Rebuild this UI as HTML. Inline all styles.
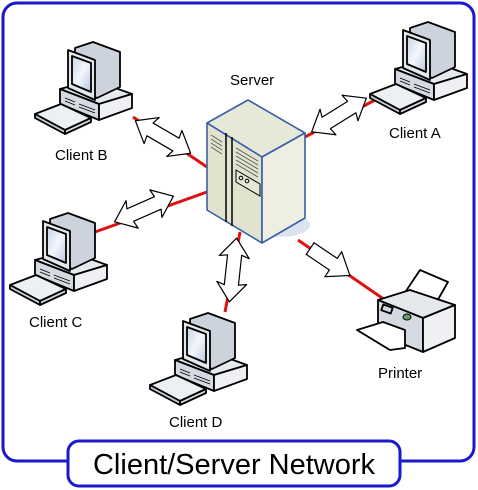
<!DOCTYPE html>
<html><head><meta charset="utf-8"><style>
html,body{margin:0;padding:0;background:#fff;}
svg{display:block;}
text{font-family:"Liberation Sans",sans-serif;fill:#000;}
</style></head><body>
<svg width="478" height="490" viewBox="0 0 478 490" xmlns="http://www.w3.org/2000/svg">
<defs>
<linearGradient id="scr" x1="0" y1="0" x2="1" y2="1"><stop offset="0" stop-color="#c8d4e8"/><stop offset="0.5" stop-color="#f4f7fc"/><stop offset="1" stop-color="#b8c6de"/></linearGradient>
<g id="pc" stroke="#000" stroke-width="1.8" stroke-linejoin="round">
  <polygon points="25,47 58,38 97,52 64,62" fill="#e6e9ee"/>
  <polygon points="25,47 64,62 64,78 25,62" fill="#d4d9e2"/>
  <polygon points="64,62 97,52 97,66 64,78" fill="#eef0f4"/>
  <line x1="30" y1="56" x2="40" y2="60" stroke-width="0.8"/><line x1="30" y1="59" x2="40" y2="63" stroke-width="0.8"/>
  <line x1="44" y1="62" x2="60" y2="68" stroke-width="0.8"/><line x1="44" y1="65" x2="60" y2="71" stroke-width="0.8"/>
  <polygon points="40,6 58,0 85,10 85,45 62,56 40,46" fill="#cdd3dc"/>
  <polygon points="33,8 60,18 60,58 33,46" fill="#e4e7ec"/>
  <polygon points="37,14 56,21 56,50 37,42" fill="url(#scr)"/>
  <polygon points="0,72 26,62 56,76 30,88" fill="#eceff3"/>
  <polygon points="0,72 30,88 30,92 0,76" fill="#c9ced6"/>
  <polygon points="30,88 56,76 56,80 30,92" fill="#d8dce3"/>
</g>
<g id="da" stroke="#000" stroke-width="1.2" fill="#fff" stroke-linejoin="round">
  <polygon points="-32,2 -14,-14 -16,-6 14,-8 12,-16 32,-2 14,14 16,6 -14,8 -12,16"/>
</g>
</defs>
<rect x="3" y="3" width="471" height="458" rx="14" fill="none" stroke="#1a1acc" stroke-width="3"/>
<g stroke="#e01010" stroke-width="3">
<line x1="133" y1="117" x2="207" y2="167"/>
<line x1="95" y1="232" x2="207" y2="192"/>
<line x1="240" y1="232" x2="225" y2="312"/>
<line x1="305" y1="137" x2="375" y2="100"/>
<line x1="298" y1="240" x2="385" y2="300"/>
</g>
<use href="#da" transform="translate(163,137) rotate(34)"/>
<use href="#da" transform="translate(144,209) rotate(-20)"/>
<use href="#da" transform="translate(233,270) rotate(100)"/>
<use href="#da" transform="translate(339,115) rotate(-28)"/>
<polygon transform="translate(330,262) rotate(34)" points="-24,-7 4,-7 4,-15 24,0 4,15 4,7 -24,7" fill="#fff" stroke="#000" stroke-width="1.2"/>
<ellipse cx="280" cy="225" rx="30" ry="12" fill="#dde3ee"/>
<g stroke="#3a5fa8" stroke-width="1.6" stroke-linejoin="round">
<polygon points="207,123 248,100 305,133 262,157" fill="#e6e8d8"/>
<polygon points="207,123 262,157 262,243 207,210" fill="#e2e3cf"/>
<polygon points="262,157 305,133 305,218 262,243" fill="#eeefe2"/>
</g>
<g stroke="#555" stroke-width="0.8">
<line x1="226" y1="133" x2="226" y2="222" stroke="#000" stroke-width="1.5"/>
<line x1="232" y1="137" x2="232" y2="226" stroke="#000" stroke-width="1.5"/>
<line x1="211" y1="135" x2="222" y2="142"/><line x1="211" y1="139" x2="222" y2="146"/><line x1="211" y1="143" x2="222" y2="150"/><line x1="211" y1="147" x2="222" y2="154"/>
<line x1="236" y1="148" x2="258" y2="161"/><line x1="236" y1="152" x2="258" y2="165"/><line x1="236" y1="156" x2="258" y2="169"/><line x1="236" y1="160" x2="258" y2="173"/><line x1="236" y1="164" x2="258" y2="177"/>
</g>
<polygon points="236,170 260,184 260,196 236,182" fill="#e6e6d6" stroke="#000" stroke-width="1"/>
<circle cx="241" cy="178" r="1.8" fill="none" stroke="#000"/><circle cx="247" cy="181" r="1.8" fill="none" stroke="#000"/>
<use href="#pc" transform="translate(35,42)"/>
<use href="#pc" transform="translate(370,22)"/>
<use href="#pc" transform="translate(10,213)"/>
<use href="#pc" transform="translate(150,313)"/>
<g stroke="#000" stroke-width="1.8" stroke-linejoin="round">
<polygon points="400,300 420,270 448,282 432,310" fill="#fff"/>
<polygon points="378,300 410,290 455,305 423,318" fill="#e4e7ec"/>
<polygon points="378,300 423,318 423,352 378,334" fill="#d4d9e2"/>
<polygon points="423,318 455,305 455,338 423,352" fill="#eef0f4"/>
<polygon points="357,330 383,322 405,330 405,348 390,350" fill="#fff"/>
<rect x="382" y="306" width="10" height="6" fill="#d0d8e4" transform="rotate(20 387 309)"/>
</g>
<ellipse cx="407" cy="317" rx="4" ry="3" fill="#6a9a6a" stroke="#000"/>
<g font-size="15">
<text x="230" y="85">Server</text>
<text x="55" y="160">Client B</text>
<text x="389" y="138">Client A</text>
<text x="29" y="327">Client C</text>
<text x="169" y="427">Client D</text>
<text x="378" y="378">Printer</text>
</g>
<rect x="68" y="441" width="332" height="45" rx="11" fill="#fff" stroke="#1a1acc" stroke-width="3"/>
<text x="234" y="474" font-size="29" text-anchor="middle">Client/Server Network</text>
</svg>
</body></html>
